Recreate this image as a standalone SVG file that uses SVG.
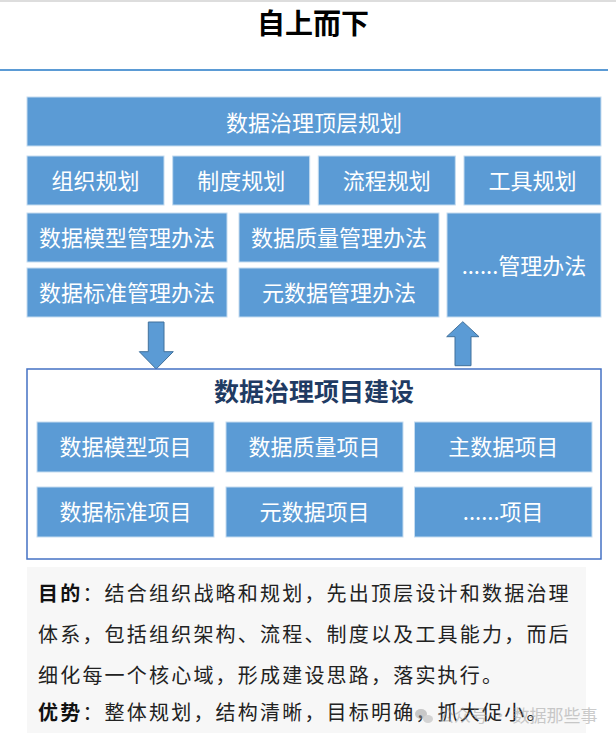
<svg xmlns="http://www.w3.org/2000/svg" width="616" height="746" viewBox="0 0 616 746">
<style>
.box{fill:#5B9BD5;stroke:#C5DCF0;stroke-width:1}
.bt{font-family:"Noto Sans CJK SC","Microsoft YaHei",sans-serif;font-size:22px;fill:#FFFFFF;text-anchor:middle}
.arrow{fill:#5B9BD5;stroke:#41719C;stroke-width:1}
.para{font-family:"Noto Sans CJK SC",sans-serif;font-size:20px;fill:#222222;letter-spacing:2.2px}
.b{font-weight:bold;fill:#111111}
</style>
<rect x="0" y="0" width="616" height="746" fill="#FFFFFF"/>
<line x1="0" y1="1" x2="616" y2="1" stroke="#DDDDDD" stroke-width="2"/>
<text x="313" y="33.5" font-family="Noto Sans CJK SC, sans-serif" font-size="28" font-weight="bold" fill="#000000" text-anchor="middle">自上而下</text>
<line x1="0" y1="70" x2="608" y2="70" stroke="#5B9BD5" stroke-width="2"/>

<g id="top-plan"><rect class="box" x="27" y="97" width="574" height="49"/><text class="bt" x="314" y="131">数据治理顶层规划</text></g>
<g id="org-plan"><rect class="box" x="27" y="156" width="137" height="49"/><text class="bt" x="95.5" y="188.5">组织规划</text></g>
<g id="rule-plan"><rect class="box" x="172.7" y="156" width="137" height="49"/><text class="bt" x="241.2" y="188.5">制度规划</text></g>
<g id="flow-plan"><rect class="box" x="318.3" y="156" width="137" height="49"/><text class="bt" x="386.8" y="188.5">流程规划</text></g>
<g id="tool-plan"><rect class="box" x="464" y="156" width="137" height="49"/><text class="bt" x="532.5" y="188.5">工具规划</text></g>
<g id="model-rule"><rect class="box" x="27" y="213" width="200" height="49"/><text class="bt" x="127" y="246">数据模型管理办法</text></g>
<g id="quality-rule"><rect class="box" x="239" y="213" width="200" height="49"/><text class="bt" x="339" y="246">数据质量管理办法</text></g>
<g id="standard-rule"><rect class="box" x="27" y="268" width="200" height="49"/><text class="bt" x="127" y="300.5">数据标准管理办法</text></g>
<g id="meta-rule"><rect class="box" x="239" y="268" width="200" height="49"/><text class="bt" x="339" y="300.5">元数据管理办法</text></g>
<g id="other-rule"><rect class="box" x="447" y="213" width="154" height="104"/><text class="bt" x="524" y="273.5">......管理办法</text></g>

<g id="connectors">
<polygon class="arrow" points="148.3,322 164,322 164,351.7 173.3,351.7 156.2,369 139.3,351.7 148.3,351.7"/>
<polygon class="arrow" points="462.8,321.7 479,336.7 471,336.7 471,365.7 455,365.7 455,336.7 446.7,336.7"/>
</g>

<g id="project">
<rect x="27" y="369" width="574" height="190" fill="#FFFFFF" stroke="#4472C4" stroke-width="1.5"/>
<text x="314" y="401" font-family="Noto Sans CJK SC, sans-serif" font-size="25" font-weight="bold" fill="#1F3B63" text-anchor="middle">数据治理项目建设</text>
</g>
<g id="p-model"><rect class="box" x="37" y="422" width="177" height="50"/><text class="bt" x="125.5" y="455">数据模型项目</text></g>
<g id="p-quality"><rect class="box" x="226" y="422" width="177" height="50"/><text class="bt" x="314.5" y="455">数据质量项目</text></g>
<g id="p-master"><rect class="box" x="414.5" y="422" width="177.5" height="50"/><text class="bt" x="503.2" y="455">主数据项目</text></g>
<g id="p-standard"><rect class="box" x="37" y="487" width="177" height="50"/><text class="bt" x="125.5" y="520">数据标准项目</text></g>
<g id="p-meta"><rect class="box" x="226" y="487" width="177" height="50"/><text class="bt" x="314.5" y="520">元数据项目</text></g>
<g id="p-other"><rect class="box" x="414.5" y="487" width="177.5" height="50"/><text class="bt" x="503.2" y="520">......项目</text></g>

<g id="notes">
<rect x="27" y="567" width="559" height="166" fill="#F7F7F7"/>
<text class="para" x="38" y="600.5"><tspan class="b">目的</tspan>：结合组织战略和规划，先出顶层设计和数据治理</text>
<text class="para" x="38" y="642">体系，包括组织架构、流程、制度以及工具能力，而后</text>
<text class="para" x="38" y="682.5">细化每一个核心域，形成建设思路，落实执行。</text>
<text class="para" x="38" y="719.5"><tspan class="b">优势</tspan>：整体规划，结构清晰，目标明确，抓大促小。</text>
</g>
<g id="watermark" opacity="0.5">
<ellipse cx="421" cy="714" rx="6" ry="5" fill="#9A9A9A"/>
<ellipse cx="428" cy="719" rx="5" ry="4" fill="#B0B0B0"/>
<text x="437" y="722" font-family="Noto Sans CJK SC, sans-serif" font-size="17" fill="#999999">公众号 · 数据那些事</text>
</g>
</svg>
